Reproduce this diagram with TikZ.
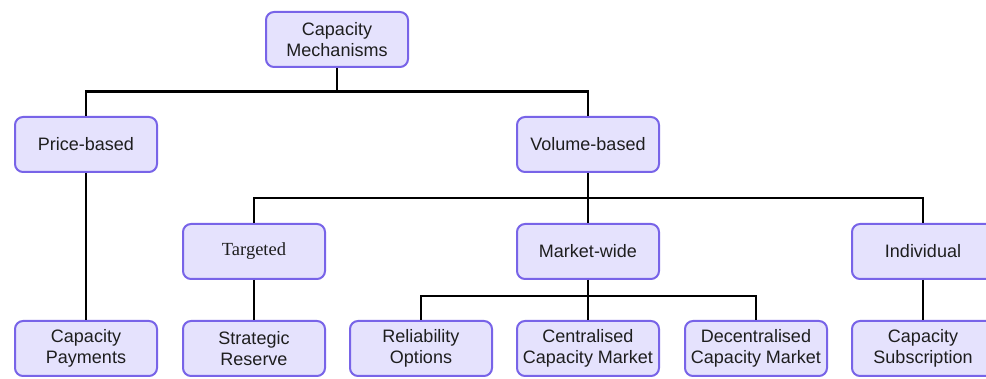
\documentclass[tikz,border=0pt]{standalone}
\usepackage{fontspec}
\setmainfont{Liberation Sans}
\newfontfamily\tnr{Liberation Serif}
\definecolor{boxfill}{RGB}{229,226,253}
\definecolor{boxdraw}{RGB}{120,100,232}
\definecolor{txt}{RGB}{30,30,30}
\begin{document}
\begin{tikzpicture}[x=1pt,y=-1pt,
  box/.style={draw=boxdraw,fill=boxfill,line width=2pt,rounded corners=8pt,
    minimum width=142pt,minimum height=55pt,inner sep=2pt,align=center,
    text=txt,font=\fontsize{18}{21}\selectfont},
  link/.style={draw=black,line width=2.2pt}]
\useasboundingbox (0,0) rectangle (986,379);
\clip (0,0) rectangle (986,379);
\fill[white] (0,0) rectangle (986,379);
% level 0
\node[box] (cm) at (337,39.5) {Capacity\\Mechanisms};
% level 1
\node[box] (pb) at (86,144.5) {Price-based};
\node[box] (vb) at (588,144.5) {Volume-based};
% level 2
\node[box,font=\tnr\fontsize{18.5}{21}\selectfont] (tg) at (254,251.5) {Targeted};
\node[box] (mw) at (588,251.5) {Market-wide};
\node[box] (ind) at (923,251.5) {Individual};
% level 3
\node[box] (cp) at (86,348.5) {Capacity\\Payments};
\node[box] (sr) at (254,348.5) {Strategic\\Reserve};
\node[box] (ro) at (421,348.5) {Reliability\\Options};
\node[box] (ccm) at (588,348.5) {Centralised\\Capacity Market};
\node[box] (dcm) at (756,348.5) {Decentralised\\Capacity Market};
\node[box] (cs) at (923,348.5) {Capacity\\Subscription};
% connectors
\draw[link] (cm.south) -- ++(0,23.5) -| (pb.north);
\draw[link] (cm.south) ++(0,23.5) -| (vb.north);
\draw[link] (pb.south) -- (cp.north);
\draw[link] (vb.south) -- ++(0,25) -| (tg.north);
\draw[link] (vb.south) -- (mw.north);
\draw[link] (vb.south) ++(0,25) -| (ind.north);
\draw[link] (tg.south) -- (sr.north);
\draw[link] (mw.south) -- ++(0,16) -| (ro.north);
\draw[link] (mw.south) -- (ccm.north);
\draw[link] (mw.south) ++(0,16) -| (dcm.north);
\draw[link] (ind.south) -- (cs.north);
\end{tikzpicture}
\end{document}
